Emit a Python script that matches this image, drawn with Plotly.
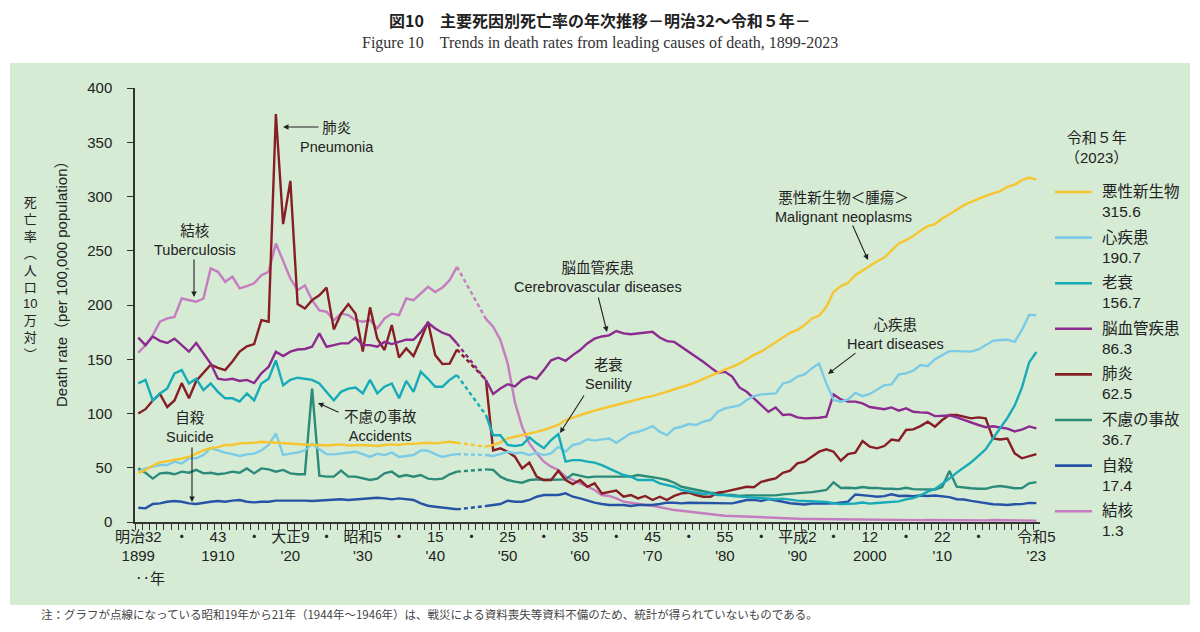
import plotly.graph_objects as go

# 年次 (1899-2023)。1944-1946 は統計なし
years = list(range(1899, 2024))
GAP = [None, None, None]

# 悪性新生物
cancer = [
    45, 48, 52, 55, 56, 57, 58.5, 60, 63, 66,                      # 1899-1908
    68, 69, 71, 71, 72.5, 72.5, 73, 74, 73.5, 73,                  # 1909-1918
    72.5, 72.5, 72, 71.5, 71, 71, 70.5, 71, 71.5, 70.5,            # 1919-1928
    71, 71, 70.5, 70, 71, 71.5, 71, 72, 72, 72.5,                  # 1929-1938
    73, 72.5, 73.5, 74, 73,                                        # 1939-1943
] + GAP + [
    69.4, 71, 73.4, 77, 78.6, 80, 81, 83, 85, 87,                  # 1947-1956
    89.4, 94, 96.4, 98.6, 100.7, 102.6, 104.7, 106.2, 107.8, 109.3,
    110.9, 113, 114.8, 116, 118, 120, 122, 124, 126.5, 129,
    132, 135, 138, 140.5, 143, 146, 150, 154, 157, 161.5,
    166, 170, 174.4, 177, 181.5, 187.6, 190, 198.4, 212, 217.4,
    220.5, 227.5, 232, 236, 240.4, 243.8, 250.6, 256.7, 259.8, 263.5,
    268.4, 272.7, 274.5, 279.7, 283.7, 288, 292, 295, 298, 300.6,
    302.8, 305, 309, 311, 315, 317.5, 315.6,                       # 2017-2023
]

# 心疾患
heart = [
    46.4, 49.4, 51, 52.5, 52.5, 55.6, 54, 58.6, 58.6, 61.7,
    68, 65.7, 64, 62.6, 60.8, 62.3, 63, 66, 71, 81.7,
    61.7, 63, 64, 66, 72, 67, 62.6, 62.3, 63, 64,
    64.8, 62.6, 60, 63, 61.7, 64, 60, 60.8, 61.7, 66,
    65.7, 62.6, 60, 61.7, 62.6,
] + GAP + [
    61.7, 60.8, 62.6, 64.8, 63.3, 63.9, 61.7, 63.9, 61.7, 63.3,
    69.4, 64.8, 71, 72.5, 76.2, 75, 76.2, 77, 73, 77,
    81.7, 83.2, 85.4, 88.4, 83.2, 80.1, 86.3, 87.8, 90.3, 89.4,
    92.4, 94, 101.6, 104.7, 106.2, 107.5, 112.4, 116, 117.6, 118,
    118.5, 127.7, 129.3, 134, 136, 141.6, 146, 127.7, 112.4, 110.9,
    113, 119, 116, 118, 122, 126, 126.8, 136, 137, 139.4,
    144.6, 143.7, 150, 153.8, 157.5, 157.5, 157, 157, 159, 163,
    167, 167.7, 168, 166, 177, 190.9, 190.7,
]

# 老衰
senility = [
    127.7, 131, 112, 118.5, 123, 137, 140, 127.7, 132, 121.6,
    127.7, 120, 114, 114, 111, 118.5, 112, 127.7, 132, 149,
    126, 131, 133, 132, 131, 127.7, 120, 112, 120, 123,
    124, 118.5, 131, 118.5, 124.7, 127.7, 114, 130, 120, 138.5,
    132, 124.7, 124.7, 131, 135.4,
] + GAP + [
    98.6, 80, 80, 71, 70, 71, 78, 72.5, 68, 75.5,
    81, 55.6, 57, 57, 55.6, 54.7, 52.5, 49.4, 46.4, 43.3,
    41.8, 38.7, 38.7, 38.7, 35.6, 34, 32.5, 29.5, 28, 27,
    25.8, 26.4, 24.9, 24.9, 24, 23.3, 23, 22.5, 22, 21.5,
    21, 21.5, 20.5, 19.7, 19.3, 19, 19.2, 18.5, 17.3, 16.5,
    16.8, 17, 18, 16.9, 17.5, 18, 18.7, 19, 20.9, 22,
    24.5, 28, 30.5, 35, 40, 45.5, 50.5, 55, 61, 67,
    77, 86, 96, 107.3, 123.8, 147.1, 156.7,
]

# 脳血管疾患
cerebro = [
    170, 163, 171, 167, 165, 169, 163, 157, 165, 155,
    146, 132, 131, 132, 130, 131, 128, 137, 143, 157,
    153, 157, 159, 159.5, 161.5, 173.8, 161.5, 163, 164.6, 164.6,
    170, 163, 163, 161.5, 166, 164, 166, 168, 168, 175,
    183.6, 178.4, 174.4, 172, 164.6,
] + GAP + [
    130.8, 118, 123, 127, 125, 131, 134, 132, 140, 149,
    151.4, 148.6, 153.8, 158.5, 164.6, 169, 171, 172, 176, 173.8,
    173, 173.8, 174.7, 175.3, 170, 166.7, 166, 161.5, 157, 152.3,
    147.7, 142.5, 137.6, 138.5, 134, 124, 120, 114, 107.8, 101.6,
    105.6, 98.6, 99.2, 96.4, 95.5, 95.5, 96.1, 97, 117.6, 113,
    110.9, 110.9, 109.3, 106, 104.7, 104, 105.6, 102.6, 104.7, 101.6,
    101, 100.7, 97.6, 97.6, 98.2, 96.5, 94.1, 91.1, 89.4, 87.4,
    88.2, 87.1, 86.1, 83.5, 85.2, 88.1, 86.3,
]

# 肺炎
pneumonia = [
    100, 104, 112, 118, 106, 112, 128, 114, 130, 138,
    145, 142, 140, 148, 157, 162, 164, 186, 184.6, 376,
    274.5, 314.4, 200.8, 196.8, 204.5, 209, 216, 177.5, 192, 200.8,
    192, 157, 197.8, 169, 158.5, 181.5, 151.7, 160, 153, 168,
    184.6, 153.8, 145.6, 146, 159,
] + GAP + [
    131, 66, 67.9, 64.8, 60.2, 49.4, 54.7, 41.8, 38.7, 38.7,
    47.3, 38.7, 35, 38.7, 32.5, 35.6, 26.4, 28, 28.9, 23.3,
    24.9, 21.8, 24, 20.3, 23.3, 20.3, 24, 26.4, 27, 24.9,
    23.3, 23.3, 27, 28, 29.5, 31, 32.5, 32, 37, 38.7,
    40.2, 45.4, 47.3, 54, 55.6, 60.2, 64.8, 67, 64.8, 56.5,
    62.6, 63.9, 74.6, 69.4, 67.9, 70, 76, 75, 84.8, 85.4,
    88.4, 92.4, 87.8, 94, 98.6, 98.6, 97, 95.5, 96.4, 95.5,
    77, 76, 77, 63.3, 58.7, 60.8, 62.5,
]

# 不慮の事故
accidents = [
    49.4, 45.4, 40, 44.8, 45.4, 44, 46.4, 45.4, 48, 44.8,
    45.4, 44, 44.8, 46.4, 45.4, 49.4, 44.8, 49.4, 48.5, 46.4,
    48, 44.8, 44, 44, 123, 42.7, 41.8, 41.8, 47.3, 41.8,
    41.8, 40, 38.7, 40, 44.8, 46.4, 41.8, 43.3, 41.8, 43.3,
    40, 39.3, 40, 44, 46.4,
] + GAP + [
    48.5, 48, 41.8, 38.7, 37.2, 36.2, 38.7, 39.3, 38.7, 38.7,
    38.7, 39.3, 44.2, 42.4, 41.1, 41.8, 41.8, 41.8, 41.8, 42.4,
    41.8, 43.3, 42.4, 41.8, 40.2, 38.7, 36.2, 32.5, 31, 29.5,
    28, 27, 26.4, 24.9, 24.9, 24, 24.5, 24.5, 24.5, 24.5,
    24.5, 25.5, 26, 26.2, 26.5, 27.5, 28.5, 29.5, 36.5, 31.4,
    31.5, 31.1, 32.3, 31.4, 31.4, 30.7, 30.7, 30.3, 31.6, 30.3,
    30.1, 30.3, 30, 32.2, 47.1, 32.6, 31.5, 31.1, 30.6, 30.6,
    32.4, 33.2, 32.2, 31.1, 31.2, 35.6, 36.7,
]

# 自殺
suicide = [
    13.2, 12.6, 16.6, 17.2, 18.7, 19.3, 18.7, 17.2, 16.6, 17.8,
    18.7, 19.3, 18.7, 19.7, 20.3, 18.7, 18.1, 18.7, 18.7, 19.7,
    19.7, 19.7, 20.3, 19.7, 19.3, 19.7, 20.3, 20.3, 20.9, 20.3,
    20.9, 21.8, 22.4, 22.4, 21.8, 20.9, 21.8, 21.2, 20.3, 17.2,
    15, 14.1, 13.5, 12.6, 11.7,
] + GAP + [
    14.7, 15.7, 16.6, 19.7, 18.7, 18.7, 20.3, 23.3, 24.9, 24.9,
    24.9, 26.4, 23.3, 21.8, 19.7, 17.8, 16.6, 15.7, 15.7, 15.7,
    14.7, 15.7, 15.7, 15.7, 16.6, 17.8, 17.8, 17.2, 17.8, 17.8,
    17.8, 17.8, 17.8, 17.8, 17.2, 18.7, 20.3, 20.4, 19.4, 21.2,
    19.6, 18.7, 17.3, 16.4, 16.1, 16.9, 16.6, 16.9, 17.2, 17.8,
    18.8, 25.4, 25, 24.1, 23.3, 23.8, 25.5, 24, 24.2, 23.7,
    24.4, 24, 24.4, 23.4, 22.9, 21, 20.7, 19.5, 18.5, 16.8,
    16.4, 16.1, 15.7, 16.4, 16.5, 17.6, 17.4,
]

# 結核
tuberculosis = [
    156, 163, 172, 184.6, 187.6, 189, 206, 204.5, 203, 206,
    233.7, 230.6, 221.4, 226, 215.3, 217.4, 220, 227.5, 230.6, 256.7,
    241.4, 224.5, 213.7, 218, 204.5, 195, 193.8, 186, 192, 190.7,
    186, 184.6, 186, 178.4, 187.6, 192, 190.7, 206, 204.5, 210.7,
    216.8, 212, 216, 223, 235.2,
] + GAP + [
    187.2, 180, 167.7, 146.4, 110.3, 87.8, 72.5, 63.3, 55.6, 51,
    48, 41.8, 38.7, 35.6, 32.5, 29.5, 24.9, 24, 21.8, 18.7,
    17.8, 16.6, 15.7, 15, 13.5, 12.6, 11, 10.4, 9.5, 8.6,
    8, 7.4, 6.4, 5.8, 5.5, 4.9, 4.6, 4.3, 3.9, 3.6,
    3.4, 3.3, 3.1, 3, 2.8, 2.7, 2.6, 2.6, 2.6, 2.3,
    2.2, 2.2, 2.3, 2.1, 2, 1.8, 1.9, 1.8, 1.8, 1.8,
    1.7, 1.8, 1.7, 1.7, 1.7, 1.7, 1.7, 1.7, 1.6, 1.5,
    1.8, 1.7, 1.7, 1.5, 1.5, 1.4, 1.3,
]

# x軸の目盛ラベル
tick_years = [1899, 1905, 1910, 1915, 1920, 1925, 1930, 1935, 1940, 1945,
              1950, 1955, 1960, 1965, 1970, 1975, 1980, 1985, 1990, 1995,
              2000, 2005, 2010, 2015, 2023]
tick_labels = ["明治32<br>1899", "・", "43<br>1910", "・", "大正9<br>'20", "・",
               "昭和5<br>'30", "・", "15<br>'40", "・", "25<br>'50", "・",
               "35<br>'60", "・", "45<br>'70", "・", "55<br>'80", "・",
               "平成2<br>'90", "・", "12<br>2000", "・", "22<br>'10", "・",
               "令和5<br>'23"]

# 凡例順
legend_items = [
    ("悪性新生物", cancer, "#f6c530"),
    ("心疾患", heart, "#7ccbe6"),
    ("老衰", senility, "#17aab8"),
    ("脳血管疾患", cerebro, "#8d2a90"),
    ("肺炎", pneumonia, "#861e24"),
    ("不慮の事故", accidents, "#2b8a79"),
    ("自殺", suicide, "#2653a6"),
    ("結核", tuberculosis, "#c57cc0"),
]
# 描画順 (下から)
draw_order = ["結核", "自殺", "不慮の事故", "肺炎", "脳血管疾患", "心疾患", "悪性新生物", "老衰"]

for name, vals, _ in legend_items:
    assert len(vals) == len(years), name

FONT = "Liberation Sans, Arial, Noto Sans CJK JP, sans-serif"
JP = "Noto Sans CJK JP, sans-serif"

# the page body has an 8px margin, so the figure is drawn 8px smaller
OFF = 8
FIG_W, FIG_H = 1200 - 2 * OFF, 632 - 2 * OFF
# plot area in page pixels
L, T, W, H = 135, 88, 905, 434


def px(x, y):
    # page pixel -> paper coordinates
    return (x - L) / W, (T + H - y) / H


fig = go.Figure()

i43, i47 = years.index(1943), years.index(1947)
lookup = {n: (v, c) for n, v, c in legend_items}
for name in draw_order:
    vals, color = lookup[name]
    fig.add_trace(go.Scatter(x=years, y=vals, mode="lines", name=name,
                             line=dict(color=color, width=2.4),
                             connectgaps=False, hoverinfo="skip"))
    # 1944-1946 は点線でつなぐ
    fig.add_trace(go.Scatter(x=[years[i43], years[i47]], y=[vals[i43], vals[i47]],
                             mode="lines", line=dict(color=color, width=2.4, dash="4px,3px"),
                             hoverinfo="skip"))

# green panel
x0, y0 = px(10, 605)
x1, y1 = px(1190, 63)
fig.add_shape(type="rect", xref="paper", yref="paper", x0=x0, y0=y0, x1=x1, y1=y1,
              fillcolor="#d5ebd4", line=dict(width=0), layer="below")


def label(x, y, text, size=14.5, anchor="center", font=FONT, color="#222", **kw):
    ax, ay = px(x, y)
    fig.add_annotation(x=ax, y=ay, xref="paper", yref="paper", text=text,
                       showarrow=False, xanchor=anchor, yanchor="middle",
                       font=dict(size=size, family=font, color=color), **kw)


def arrow(tx, ty, hx, hy):
    ax, ay = px(hx, hy)
    fig.add_annotation(x=ax, y=ay, xref="paper", yref="paper", text="",
                       showarrow=True, ax=tx - hx, ay=ty - hy,
                       arrowhead=2, arrowsize=1, arrowwidth=1.1, arrowcolor="#222")


# titles
label(600, 20, "<b>図10　主要死因別死亡率の年次推移－明治32～令和５年－</b>", size=16, font=JP,
      borderpad=0)
label(600, 43, "Figure 10　Trends in death rates from leading causes of death, 1899-2023",
      size=16, font="Liberation Serif, DejaVu Serif, serif", color="#333")

# series labels
label(337, 137.5, "肺炎<br>Pneumonia")
arrow(320, 127, 283, 127)
label(195, 240, "結核<br>Tuberculosis")
arrow(194, 258, 194, 297)
label(190, 427.5, "自殺<br>Suicide")
arrow(192, 446, 192, 502)
label(380, 426, "不慮の事故<br>Accidents")
arrow(340, 413, 318, 403)
label(598, 277, "脳血管疾患<br>Cerebrovascular diseases")
arrow(598, 296, 607, 332)
label(608, 374.5, "老衰<br>Senility")
arrow(585, 394, 560, 433)
label(843, 206.5, "悪性新生物＜腫瘍＞<br>Malignant neoplasms")
arrow(852, 224, 868, 260)
label(895, 334, "心疾患<br>Heart diseases")
arrow(857, 352, 828, 374)

# legend
label(1096, 148, "令和５年<br>（2023）", size=15)
for k, (name, vals, color) in enumerate(legend_items):
    ly = 192 + k * 45.6
    sx0, sy = px(1055, ly)
    sx1, _ = px(1092, ly)
    fig.add_shape(type="line", xref="paper", yref="paper", x0=sx0, x1=sx1, y0=sy, y1=sy,
                  line=dict(color=color, width=2.6))
    label(1100, ly + 9.5, f"{name}<br>{vals[-1]:.1f}", size=15.5, anchor="left", align="left")

# axis titles
label(30, 278, "<br>".join(["死", "亡", "率", "︵", "人", "口", "10", "万", "対", "︶"]), size=13)
label(61, 280, "Death rate（per 100,000 population）", size=15, textangle=-90)
label(150, 578, "‥年", size=15)

# note
label(40, 614, "注：グラフが点線になっている昭和19年から21年（1944年～1946年）は、戦災による資料喪失等資料不備のため、統計が得られていないものである。",
      size=11.5, anchor="left", font=JP, color="#444", borderpad=0)

fig.update_layout(
    width=FIG_W, height=FIG_H,
    margin=dict(l=L - OFF, r=FIG_W - (L - OFF) - W, t=T - OFF, b=FIG_H - (T - OFF) - H),
    paper_bgcolor="white", plot_bgcolor="rgba(0,0,0,0)",
    showlegend=False,
    font=dict(family=FONT, size=15, color="#222"),
)
fig.update_xaxes(range=[1898.55, 2023.5], showline=True, linecolor="#333", linewidth=1.5,
                 showgrid=False, zeroline=False, ticks="",
                 tickmode="array", tickvals=tick_years, ticktext=tick_labels,
                 tickfont=dict(size=15, family=FONT),
                 minor=dict(ticks="outside", ticklen=6, tickcolor="#333", tickwidth=1,
                            tickmode="linear", tick0=1898.55, dtick=1))
fig.update_yaxes(range=[0, 400], showline=True, linecolor="#333", linewidth=1.5,
                 showgrid=False, zeroline=False, ticks="outside", ticklen=6,
                 tickcolor="#333", tickvals=list(range(0, 401, 50)),
                 ticklabelstandoff=12, tickfont=dict(size=15, family=FONT))

fig.write_html("out.html")
